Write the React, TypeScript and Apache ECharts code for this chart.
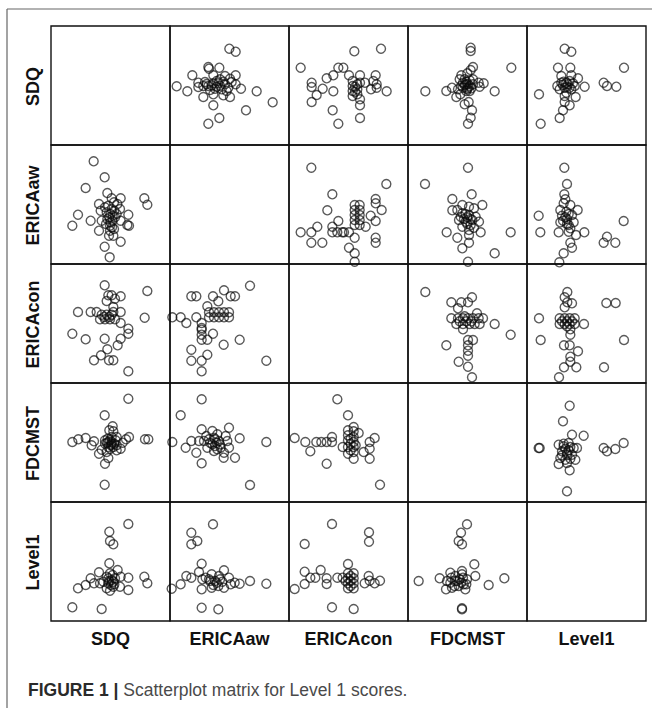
import React, { useEffect, useRef } from "react";
import * as echarts from "echarts";

// Variables of the scatterplot matrix (same order on rows and columns)
const variables = ["SDQ", "ERICAaw", "ERICAcon", "FDCMST", "Level1"];

// Common score scale used for every variable (arbitrary units)
const scaleMin = 0;
const scaleMax = 357;

// Pairwise observations: [x = column variable, y = row variable]
const sdqVsEricaAw: [number, number][] = [
  [178, 289], [197, 280], [115, 234], [117, 229], [148, 232], [67, 209], [130, 209], [165, 207],
  [197, 209], [150, 197], [180, 199], [85, 187], [85, 174], [100, 177], [115, 177], [125, 179],
  [135, 169], [145, 185], [155, 167], [165, 182], [175, 172], [185, 189], [197, 182], [213, 169],
  [20, 176], [52, 161], [100, 144], [130, 152], [160, 149], [180, 144], [260, 161], [308, 128],
  [130, 119], [228, 104], [148, 81], [115, 64], [120, 165], [140, 192], [170, 162], [105, 189],
  [110, 183], [150, 178], [160, 190], [130, 185], [140, 175],
];
const sdqVsEricaCon: [number, number][] = [
  [196, 281], [276, 289], [35, 232], [148, 232], [163, 232], [113, 200], [133, 209], [180, 209],
  [213, 209], [260, 209], [68, 187], [68, 174], [101, 169], [83, 150], [68, 129], [133, 161],
  [191, 192], [191, 177], [191, 162], [191, 147], [205, 182], [205, 167], [205, 152], [213, 187],
  [213, 137], [228, 187], [253, 192], [263, 182], [263, 172], [246, 167], [293, 161], [213, 119],
  [131, 104], [213, 81], [148, 64], [198, 175], [198, 160],
];
const sdqVsFdcmst: [number, number][] = [
  [188, 292], [188, 282], [195, 234], [188, 225], [310, 232], [160, 209], [178, 215], [170, 197],
  [185, 194], [175, 182], [165, 172], [180, 172], [195, 182], [212, 187], [227, 185], [215, 175],
  [150, 167], [132, 172], [115, 162], [185, 162], [52, 161], [260, 161], [145, 144], [157, 152],
  [170, 122], [182, 129], [192, 104], [188, 82], [180, 64], [165, 187], [180, 182], [195, 197],
  [155, 197], [175, 162], [170, 180], [185, 177], [175, 190], [160, 178], [190, 170], [178, 168],
];
const sdqVsLevel1: [number, number][] = [
  [113, 289], [133, 280], [93, 232], [130, 232], [291, 232], [103, 207], [133, 209], [153, 200],
  [91, 177], [103, 187], [113, 172], [123, 182], [133, 167], [143, 177], [98, 167], [118, 157],
  [128, 192], [173, 175], [230, 187], [240, 177], [268, 175], [36, 152], [146, 144], [113, 129],
  [128, 119], [108, 104], [98, 81], [41, 64], [113, 147], [108, 180], [120, 175], [128, 172],
  [118, 187], [138, 185], [110, 190],
];
const ericaAwVsEricaCon: [number, number][] = [
  [67, 289], [292, 240], [130, 209], [260, 195], [260, 182], [278, 162], [115, 161], [197, 177],
  [212, 177], [197, 162], [212, 162], [197, 147], [212, 147], [197, 132], [212, 132], [212, 117],
  [197, 117], [245, 145], [260, 129], [148, 129], [130, 112], [130, 95], [145, 95], [160, 95],
  [85, 112], [67, 95], [35, 95], [230, 112], [197, 79], [260, 79], [260, 64], [67, 64],
  [100, 64], [180, 49], [197, 32], [197, 7], [180, 95], [165, 95],
];
const ericaAwVsFdcmst: [number, number][] = [
  [180, 289], [51, 240], [191, 209], [133, 195], [223, 177], [133, 161], [148, 162], [163, 177],
  [183, 172], [198, 167], [163, 152], [183, 147], [203, 142], [153, 132], [173, 127], [188, 117],
  [213, 127], [163, 112], [183, 102], [198, 109], [218, 95], [183, 87], [116, 95], [148, 79],
  [183, 64], [163, 47], [260, 32], [180, 7], [308, 95], [158, 142], [193, 132], [173, 150],
  [178, 140], [188, 135], [168, 135], [178, 120],
];
const ericaAwVsLevel1: [number, number][] = [
  [112, 289], [120, 240], [112, 209], [115, 194], [130, 177], [100, 162], [152, 162], [135, 147],
  [105, 145], [120, 135], [35, 145], [290, 129], [100, 125], [125, 117], [140, 125], [130, 107],
  [40, 95], [95, 95], [172, 95], [147, 87], [240, 82], [230, 64], [265, 64], [130, 64],
  [135, 49], [110, 32], [97, 5], [118, 157], [125, 97], [110, 182], [115, 140], [125, 150],
  [108, 130], [120, 120],
];
const ericaConVsFdcmst: [number, number][] = [
  [52, 273], [130, 242], [160, 242], [180, 242], [192, 257], [150, 224], [207, 209], [130, 194],
  [150, 194], [165, 194], [180, 194], [195, 194], [212, 194], [225, 194], [145, 177], [165, 177],
  [185, 177], [200, 177], [215, 177], [260, 177], [165, 161], [308, 145], [115, 113], [180, 129],
  [195, 129], [180, 113], [180, 97], [180, 82], [152, 64], [180, 49], [192, 17], [175, 185],
  [190, 185], [170, 200], [155, 185],
];
const ericaConVsLevel1: [number, number][] = [
  [121, 273], [113, 257], [121, 242], [135, 239], [113, 227], [238, 240], [266, 240], [36, 194],
  [98, 194], [113, 194], [128, 194], [143, 194], [98, 177], [113, 177], [128, 177], [143, 177],
  [171, 177], [130, 161], [130, 145], [41, 129], [291, 129], [111, 113], [128, 113], [153, 95],
  [130, 79], [130, 64], [111, 47], [148, 47], [231, 47], [96, 17], [120, 185], [135, 185],
  [105, 185], [120, 170],
];
const fdcmstVsLevel1: [number, number][] = [
  [128, 289], [108, 242], [135, 202], [170, 199], [38, 162], [35, 162], [95, 172], [110, 167],
  [125, 177], [140, 162], [150, 162], [105, 152], [120, 147], [135, 142], [100, 132], [115, 127],
  [145, 127], [95, 114], [120, 117], [230, 162], [240, 152], [265, 159], [290, 177], [128, 95],
  [120, 32], [115, 160], [125, 155], [110, 175], [130, 165], [120, 140], [105, 140], [130, 130],
];

const captionBold = "FIGURE 1 |";
const captionText = "Scatterplot matrix for Level 1 scores.";

// upper triangle pairs: key "row-col" with row < col
const upperPairs: Record<string, [number, number][]> = {
  "0-1": sdqVsEricaAw,
  "0-2": sdqVsEricaCon,
  "0-3": sdqVsFdcmst,
  "0-4": sdqVsLevel1,
  "1-2": ericaAwVsEricaCon,
  "1-3": ericaAwVsFdcmst,
  "1-4": ericaAwVsLevel1,
  "2-3": ericaConVsFdcmst,
  "2-4": ericaConVsLevel1,
  "3-4": fdcmstVsLevel1,
};

function cellData(r: number, c: number): [number, number][] {
  if (r === c) return [];
  if (r < c) return upperPairs[`${r}-${c}`];
  return upperPairs[`${c}-${r}`].map(([x, y]) => [y, x] as [number, number]);
}

const GRID_LEFT = 51;
const GRID_TOP = 26;
const CELL = 119;
const FONT = "'Liberation Sans', Arial, Helvetica, sans-serif";

export default function App() {
  const ref = useRef<HTMLDivElement>(null);

  useEffect(() => {
    if (!ref.current) return;
    const chart = echarts.init(ref.current, undefined, { renderer: "svg" });
    const n = variables.length;
    const grids: any[] = [];
    const xAxes: any[] = [];
    const yAxes: any[] = [];
    const series: any[] = [];
    let idx = 0;
    for (let r = 0; r < n; r++) {
      for (let c = 0; c < n; c++) {
        grids.push({
          left: GRID_LEFT + c * CELL,
          top: GRID_TOP + r * CELL,
          width: CELL,
          height: CELL,
          show: true,
          borderColor: "#111",
          borderWidth: 1.4,
          backgroundColor: "transparent",
        });
        xAxes.push({ type: "value", gridIndex: idx, min: scaleMin, max: scaleMax, show: false });
        yAxes.push({ type: "value", gridIndex: idx, min: scaleMin, max: scaleMax, show: false });
        if (r !== c) {
          series.push({
            type: "scatter",
            xAxisIndex: idx,
            yAxisIndex: idx,
            data: cellData(r, c),
            symbol: "circle",
            symbolSize: 9,
            clip: false,
            itemStyle: {
              color: "transparent",
              borderColor: "rgba(10,10,10,0.85)",
              borderWidth: 1.4,
            },
            emphasis: { disabled: true },
          });
        }
        idx++;
      }
    }

    const graphics: any[] = [
      {
        type: "line",
        shape: { x1: 7, y1: 9, x2: 652, y2: 9 },
        style: { stroke: "#666", lineWidth: 1.2 },
      },
      {
        type: "line",
        shape: { x1: 7, y1: 9, x2: 7, y2: 708 },
        style: { stroke: "#666", lineWidth: 1.2 },
      },
    ];
    variables.forEach((v, i) => {
      graphics.push({
        type: "text",
        x: 33,
        y: GRID_TOP + i * CELL + CELL / 2 + 1,
        rotation: Math.PI / 2,
        style: {
          text: v,
          fontFamily: FONT,
          fontWeight: "bold",
          fontSize: 18,
          fill: "#111",
          align: "center",
          verticalAlign: "middle",
        },
      });
      graphics.push({
        type: "text",
        x: GRID_LEFT + i * CELL + CELL / 2,
        y: 639,
        style: {
          text: v,
          fontFamily: FONT,
          fontWeight: "bold",
          fontSize: 18,
          fill: "#111",
          align: "center",
          verticalAlign: "middle",
        },
      });
    });
    graphics.push({
      type: "text",
      x: 28,
      y: 690,
      style: {
        text: `{b|${captionBold}} {r|${captionText}}`,
        verticalAlign: "middle",
        align: "left",
        rich: {
          b: { fontFamily: FONT, fontWeight: "bold", fontSize: 17.5, fill: "#2a2a2a", color: "#2a2a2a" },
          r: { fontFamily: FONT, fontWeight: "normal", fontSize: 17.5, fill: "#4a4a4a", color: "#4a4a4a" },
        },
        fontFamily: FONT,
        fontSize: 17.5,
      },
    });

    chart.setOption({
      animation: false,
      backgroundColor: "#ffffff",
      grid: grids,
      xAxis: xAxes,
      yAxis: yAxes,
      series,
      graphic: graphics,
    });
    return () => chart.dispose();
  }, []);

  return (
    <div
      ref={ref}
      style={{ position: "absolute", left: 0, top: 0, width: 652, height: 708 }}
    />
  );
}
